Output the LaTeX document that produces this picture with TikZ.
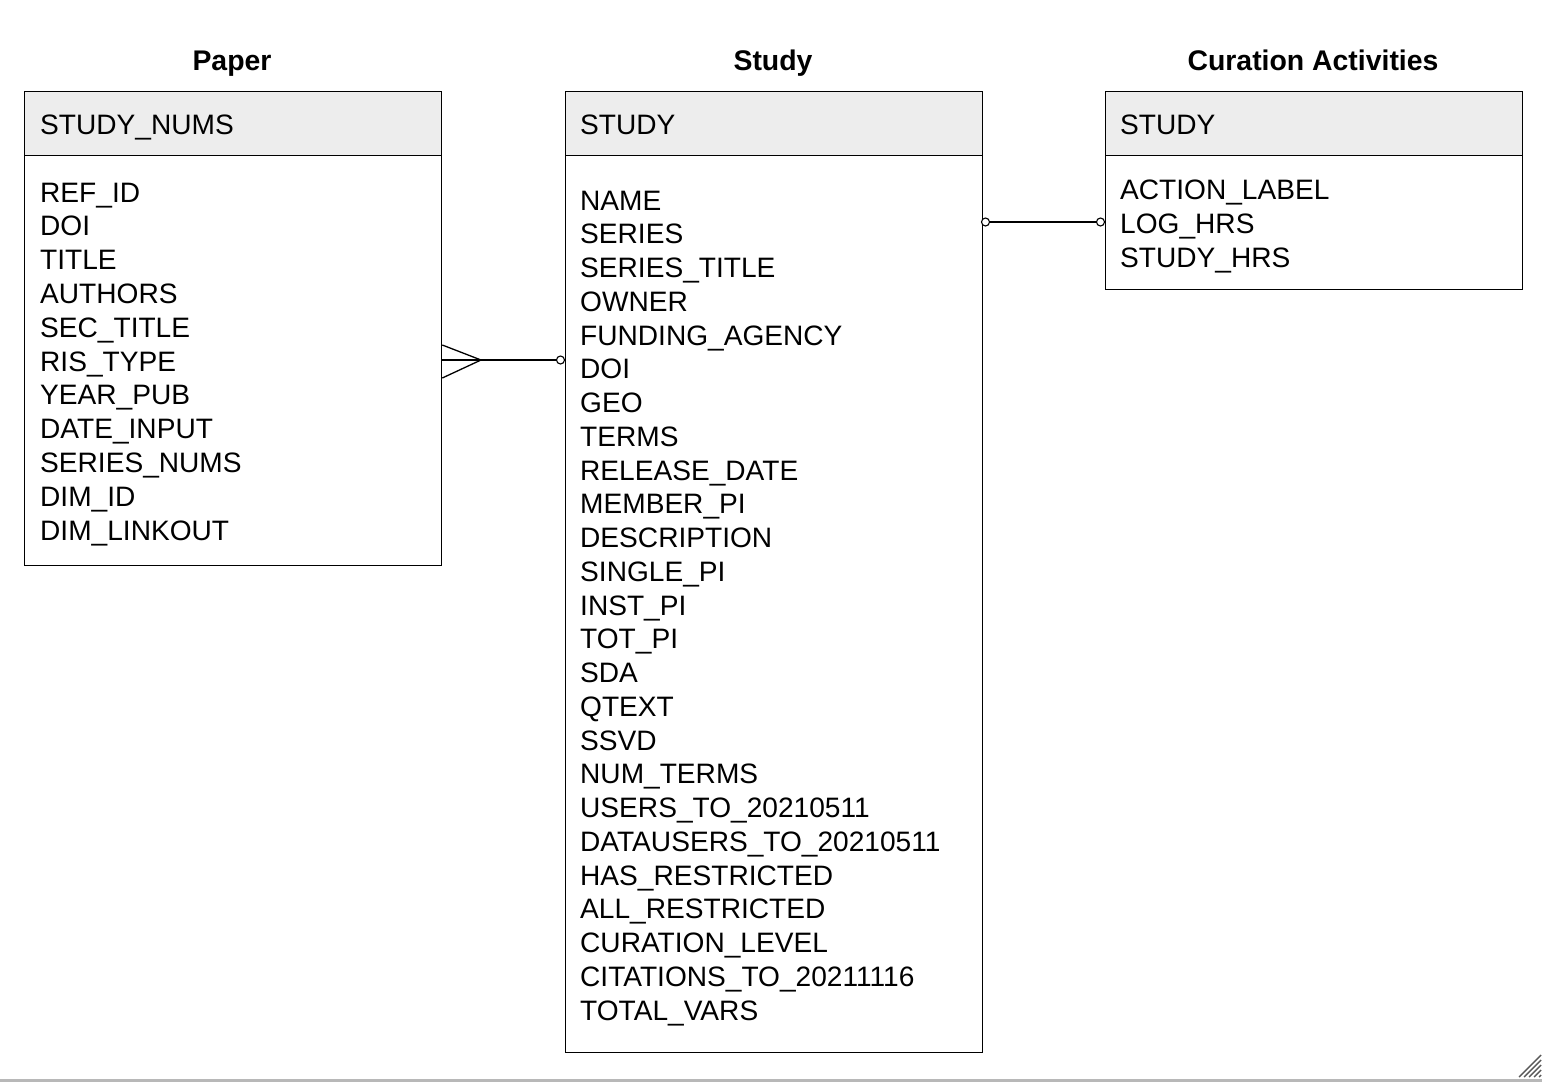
\documentclass[tikz,border=0pt]{standalone}
\usepackage{fontspec}
\setmainfont{Liberation Sans}
\begin{document}
\begin{tikzpicture}[x=1pt,y=-1pt,
  hdr/.style={draw=black,line width=1.3pt,fill=black!7,anchor=north west,minimum width=417pt,minimum height=64pt,inner sep=0pt},
  bodybox/.style={draw=black,line width=1.3pt,anchor=north west,minimum width=417pt,inner sep=0pt},
  fld/.style={anchor=base west,inner sep=0pt,font=\fontsize{28.1}{32}\selectfont},
  ttl/.style={anchor=base,inner sep=0pt,font=\fontsize{28.4}{32}\selectfont\bfseries},
  conn/.style={line width=1.3pt},
  endc/.style={circle,draw=black,line width=1.1pt,fill=white,minimum size=8pt,inner sep=0pt}]
\useasboundingbox (0,0) rectangle (1542,1082);
% titles
\node[ttl] (tPaper) at (232,70) {Paper};
\node[ttl] (tStudy) at (773,70) {Study};
\node[ttl] (tCur) at (1313,70) {Curation Activities};
% boxes
\node[hdr] (pH) at (24,91) {};
\node[bodybox,minimum height=410pt] (pB) at (24,155) {};
\node[hdr] (sH) at (565,91) {};
\node[bodybox,minimum height=897pt] (sB) at (565,155) {};
\node[hdr] (cH) at (1105,91) {};
\node[bodybox,minimum height=134pt] (cB) at (1105,155) {};
% header texts
\node[fld] (pHt) at (40,134) {STUDY\_NUMS};
\node[fld] (sHt) at (580,134) {STUDY};
\node[fld] (cHt) at (1120,134) {STUDY};
% paper fields
\foreach \t [count=\i from 0] in {REF\_ID,DOI,TITLE,AUTHORS,SEC\_TITLE,RIS\_TYPE,YEAR\_PUB,DATE\_INPUT,SERIES\_NUMS,DIM\_ID,DIM\_LINKOUT}
  \node[fld] (pf\i) at (40,202+33.8*\i) {\t};
% study fields
\foreach \t [count=\i from 0] in {NAME,SERIES,SERIES\_TITLE,OWNER,FUNDING\_AGENCY,DOI,GEO,TERMS,RELEASE\_DATE,MEMBER\_PI,DESCRIPTION,SINGLE\_PI,INST\_PI,TOT\_PI,SDA,QTEXT,SSVD,NUM\_TERMS,USERS\_TO\_20210511,DATAUSERS\_TO\_20210511,HAS\_RESTRICTED,ALL\_RESTRICTED,CURATION\_LEVEL,CITATIONS\_TO\_20211116,TOTAL\_VARS}
  \node[fld] (sf\i) at (580,210+33.75*\i) {\t};
% curation fields
\foreach \t [count=\i from 0] in {ACTION\_LABEL,LOG\_HRS,STUDY\_HRS}
  \node[fld] (cf\i) at (1120,199+34*\i) {\t};
% connector Paper - Study (many to zero-or-one)
\coordinate (y1) at (0,360);
\coordinate (y1a) at (0,345);
\coordinate (y1b) at (0,378);
\coordinate (crowtip) at (481,360);
\node[endc] (o1) at (560.5,360) {};
\draw[conn] (pB.east |- y1) -- (o1.west);
\draw[conn] (pB.east |- y1a) -- (crowtip) -- (pB.east |- y1b);
% connector Study - Curation
\node[endc] (o2) at (985.5,222) {};
\node[endc] (o3) at (1100.5,222) {};
\draw[conn] (o2.east) -- (o3.west);
% window artefacts
\fill[black!28] (0,1079) rectangle (1542,1082);
\foreach \d in {0,5,10,15,20}
  \draw[black!65,line width=1.4pt] (1519+\d,1077) -- (1541,1055+\d);
\end{tikzpicture}
\end{document}
